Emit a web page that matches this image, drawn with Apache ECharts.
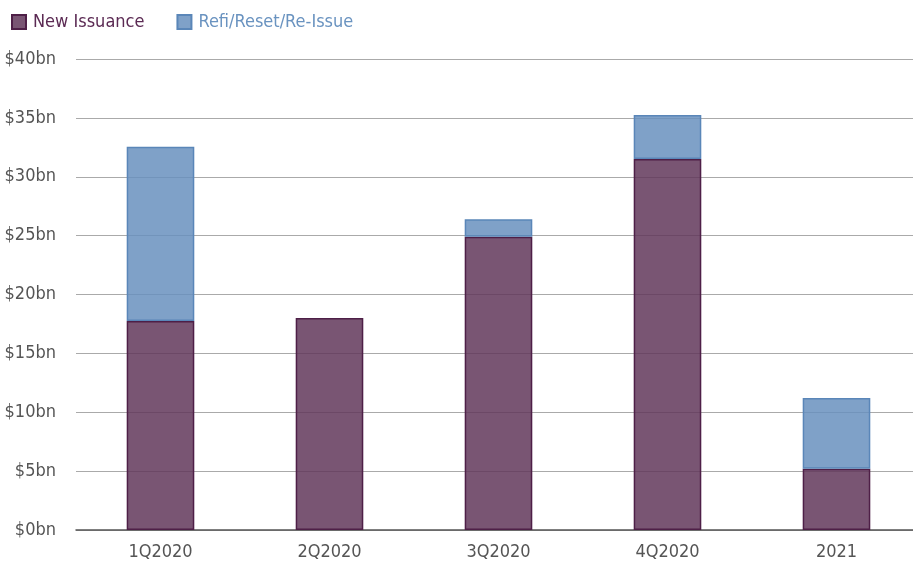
<!DOCTYPE html>
<html>
<head>
<meta charset="utf-8">
<script src="https://cdn.jsdelivr.net/npm/echarts@6/dist/echarts.min.js"></script>
<style>
  html, body { margin: 0; padding: 0; background: #fff; }
  #container { width: 913px; height: 564px; }
</style>
</head>
<body>
<div id="container"></div>
<script>
const categories = ['1Q2020', '2Q2020', '3Q2020', '4Q2020', '2021']
const newIssuance = [17.75, 18.0, 24.9, 31.5, 5.2]
const refi = [14.8, 0, 1.5, 3.75, 6.0]
const yTicks = [0, 5, 10, 15, 20, 25, 30, 35, 40]

const font = '"Liberation Sans Narrow", "DejaVu Sans Condensed", sans-serif'

const myChart = echarts.init(document.getElementById('container'))

const option = {
    backgroundColor: '#fff',
    animation: false,
    textStyle: { fontFamily: font },
    legend: {
        left: 6,
        top: 8,
        itemWidth: 14,
        itemHeight: 14,
        itemGap: 32,
        icon: 'rect',
        data: [
            { name: 'New Issuance', textStyle: { color: '#5b2a53' } },
            { name: 'Refi/Reset/Re-Issue', textStyle: { color: '#6a93c0' } }
        ],
        textStyle: { fontSize: 18, fontFamily: font, padding: [0, 0, 0, 2] }
    },
    grid: {
        left: 76,
        width: 845,
        top: 59,
        bottom: 34,
        containLabel: false,
        outerBoundsMode: 'none'
    },
    xAxis: {
        type: 'category',
        data: categories,
        axisTick: { show: false },
        axisLine: { lineStyle: { color: '#555', width: 1.5 } },
        axisLabel: { color: '#555', fontSize: 18, margin: 13, fontFamily: font }
    },
    yAxis: {
        type: 'value',
        min: 0,
        max: 40,
        interval: 5,
        axisLine: { show: false },
        axisTick: { show: false },
        axisLabel: {
            color: '#555',
            fontSize: 18,
            margin: 20,
            fontFamily: font,
            formatter: v => yTicks.includes(v) ? '$' + v + 'bn' : ''
        },
        splitLine: { lineStyle: { color: '#aaa', width: 1 } }
    },
    series: [
        {
            name: 'New Issuance',
            type: 'bar',
            stack: 'total',
            barWidth: '40%',
            itemStyle: {
                color: 'rgba(98, 55, 90, 0.85)',
                borderColor: '#4e1f47',
                borderWidth: 1.5
            },
            data: newIssuance
        },
        {
            name: 'Refi/Reset/Re-Issue',
            type: 'bar',
            stack: 'total',
            barWidth: '40%',
            itemStyle: {
                color: 'rgba(104, 145, 190, 0.85)',
                borderColor: '#5a86b8',
                borderWidth: 1.5
            },
            data: refi.map(v => v === 0 ? null : v)
        }
    ]
}

myChart.setOption(option)
</script>
</body>
</html>
